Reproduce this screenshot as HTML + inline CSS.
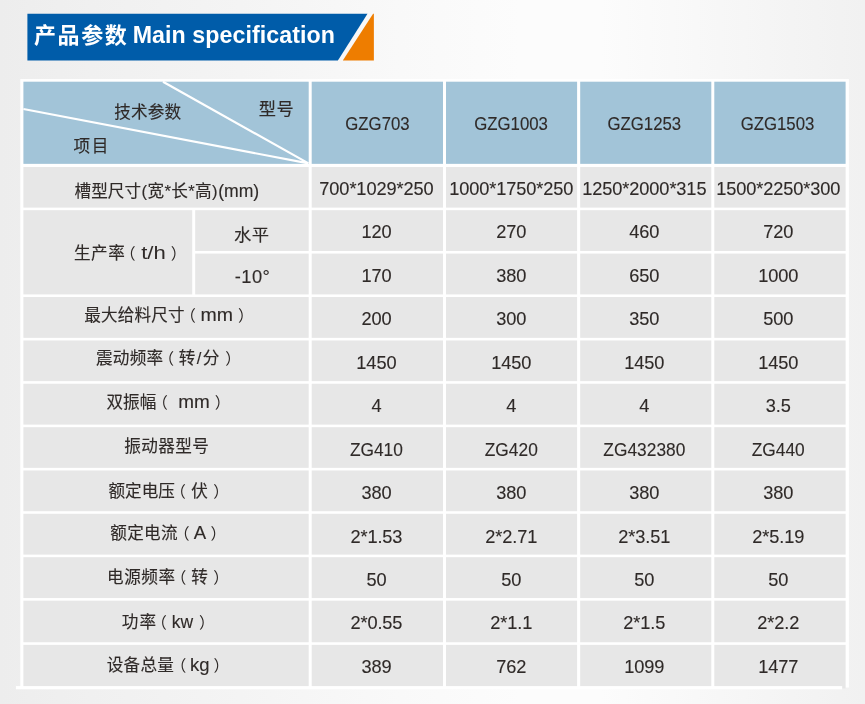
<!DOCTYPE html>
<html lang="zh-CN">
<head>
<meta charset="utf-8">
<title>产品参数 Main specification</title>
<style>
html,body{margin:0;padding:0;}
body{width:865px;height:704px;overflow:hidden;position:relative;background:#f1f1f1;}
#bg{position:absolute;left:0;top:0;width:865px;height:704px;background:linear-gradient(90deg,#ededed 0px,#f0f0f0 90px,#f4f4f4 240px,#f9f9f9 400px,#fcfcfc 520px,#fcfcfc 600px,#f7f7f7 720px,#f1f1f1 865px);}
svg{position:absolute;left:0;top:0;}
svg{font-family:"Liberation Sans", "Noto Sans CJK SC", sans-serif;fill:#2f2a28;}
.k{stroke:#2f2a28;stroke-width:0.14px;}
.e,.d{stroke:#2f2a28;stroke-width:0.12px;}
</style>
</head>
<body>
<div id="bg"></div>
<svg width="865" height="704" viewBox="0 0 865 704">
<g id="shapes">
<polygon points="27.4,13.8 367.5,13.8 337.9,60.6 27.4,60.6" fill="#005ca9"/>
<polygon points="373.1,13.8 373.9,13.8 373.9,60.6 342.8,60.6" fill="#ee7d00"/>
<rect x="20.30" y="79.10" width="828.60" height="608.40" fill="#ffffff"/>
<rect x="23.40" y="81.70" width="285.30" height="82.15" fill="#a2c4d8"/>
<rect x="311.70" y="81.70" width="131.30" height="82.15" fill="#a2c4d8"/>
<rect x="446.00" y="81.70" width="131.10" height="82.15" fill="#a2c4d8"/>
<rect x="580.20" y="81.70" width="131.10" height="82.15" fill="#a2c4d8"/>
<rect x="714.30" y="81.70" width="131.30" height="82.15" fill="#a2c4d8"/>
<path d="M23.4,109 L308.5,163.4 M163,81.7 L308.5,163.4" stroke="#ffffff" stroke-width="2.2" fill="none"/>
<rect x="23.40" y="167.00" width="285.30" height="40.60" fill="#e7e7e7"/>
<rect x="311.70" y="167.00" width="131.30" height="40.60" fill="#e7e7e7"/>
<rect x="446.00" y="167.00" width="131.10" height="40.60" fill="#e7e7e7"/>
<rect x="580.20" y="167.00" width="131.10" height="40.60" fill="#e7e7e7"/>
<rect x="714.30" y="167.00" width="131.30" height="40.60" fill="#e7e7e7"/>
<rect x="311.70" y="210.20" width="131.30" height="40.80" fill="#e7e7e7"/>
<rect x="446.00" y="210.20" width="131.10" height="40.80" fill="#e7e7e7"/>
<rect x="580.20" y="210.20" width="131.10" height="40.80" fill="#e7e7e7"/>
<rect x="714.30" y="210.20" width="131.30" height="40.80" fill="#e7e7e7"/>
<rect x="311.70" y="253.60" width="131.30" height="40.80" fill="#e7e7e7"/>
<rect x="446.00" y="253.60" width="131.10" height="40.80" fill="#e7e7e7"/>
<rect x="580.20" y="253.60" width="131.10" height="40.80" fill="#e7e7e7"/>
<rect x="714.30" y="253.60" width="131.30" height="40.80" fill="#e7e7e7"/>
<rect x="23.40" y="297.00" width="285.30" height="40.85" fill="#e7e7e7"/>
<rect x="311.70" y="297.00" width="131.30" height="40.85" fill="#e7e7e7"/>
<rect x="446.00" y="297.00" width="131.10" height="40.85" fill="#e7e7e7"/>
<rect x="580.20" y="297.00" width="131.10" height="40.85" fill="#e7e7e7"/>
<rect x="714.30" y="297.00" width="131.30" height="40.85" fill="#e7e7e7"/>
<rect x="23.40" y="340.45" width="285.30" height="40.70" fill="#e7e7e7"/>
<rect x="311.70" y="340.45" width="131.30" height="40.70" fill="#e7e7e7"/>
<rect x="446.00" y="340.45" width="131.10" height="40.70" fill="#e7e7e7"/>
<rect x="580.20" y="340.45" width="131.10" height="40.70" fill="#e7e7e7"/>
<rect x="714.30" y="340.45" width="131.30" height="40.70" fill="#e7e7e7"/>
<rect x="23.40" y="383.75" width="285.30" height="40.85" fill="#e7e7e7"/>
<rect x="311.70" y="383.75" width="131.30" height="40.85" fill="#e7e7e7"/>
<rect x="446.00" y="383.75" width="131.10" height="40.85" fill="#e7e7e7"/>
<rect x="580.20" y="383.75" width="131.10" height="40.85" fill="#e7e7e7"/>
<rect x="714.30" y="383.75" width="131.30" height="40.85" fill="#e7e7e7"/>
<rect x="23.40" y="427.20" width="285.30" height="40.65" fill="#e7e7e7"/>
<rect x="311.70" y="427.20" width="131.30" height="40.65" fill="#e7e7e7"/>
<rect x="446.00" y="427.20" width="131.10" height="40.65" fill="#e7e7e7"/>
<rect x="580.20" y="427.20" width="131.10" height="40.65" fill="#e7e7e7"/>
<rect x="714.30" y="427.20" width="131.30" height="40.65" fill="#e7e7e7"/>
<rect x="23.40" y="470.45" width="285.30" height="40.75" fill="#e7e7e7"/>
<rect x="311.70" y="470.45" width="131.30" height="40.75" fill="#e7e7e7"/>
<rect x="446.00" y="470.45" width="131.10" height="40.75" fill="#e7e7e7"/>
<rect x="580.20" y="470.45" width="131.10" height="40.75" fill="#e7e7e7"/>
<rect x="714.30" y="470.45" width="131.30" height="40.75" fill="#e7e7e7"/>
<rect x="23.40" y="513.80" width="285.30" height="40.80" fill="#e7e7e7"/>
<rect x="311.70" y="513.80" width="131.30" height="40.80" fill="#e7e7e7"/>
<rect x="446.00" y="513.80" width="131.10" height="40.80" fill="#e7e7e7"/>
<rect x="580.20" y="513.80" width="131.10" height="40.80" fill="#e7e7e7"/>
<rect x="714.30" y="513.80" width="131.30" height="40.80" fill="#e7e7e7"/>
<rect x="23.40" y="557.20" width="285.30" height="40.85" fill="#e7e7e7"/>
<rect x="311.70" y="557.20" width="131.30" height="40.85" fill="#e7e7e7"/>
<rect x="446.00" y="557.20" width="131.10" height="40.85" fill="#e7e7e7"/>
<rect x="580.20" y="557.20" width="131.10" height="40.85" fill="#e7e7e7"/>
<rect x="714.30" y="557.20" width="131.30" height="40.85" fill="#e7e7e7"/>
<rect x="23.40" y="600.65" width="285.30" height="41.60" fill="#e7e7e7"/>
<rect x="311.70" y="600.65" width="131.30" height="41.60" fill="#e7e7e7"/>
<rect x="446.00" y="600.65" width="131.10" height="41.60" fill="#e7e7e7"/>
<rect x="580.20" y="600.65" width="131.10" height="41.60" fill="#e7e7e7"/>
<rect x="714.30" y="600.65" width="131.30" height="41.60" fill="#e7e7e7"/>
<rect x="23.40" y="644.85" width="285.30" height="43.65" fill="#e7e7e7"/>
<rect x="311.70" y="644.85" width="131.30" height="43.65" fill="#e7e7e7"/>
<rect x="446.00" y="644.85" width="131.10" height="43.65" fill="#e7e7e7"/>
<rect x="580.20" y="644.85" width="131.10" height="43.65" fill="#e7e7e7"/>
<rect x="714.30" y="644.85" width="131.30" height="43.65" fill="#e7e7e7"/>
<rect x="23.40" y="210.20" width="168.80" height="84.20" fill="#e7e7e7"/>
<rect x="195.20" y="210.20" width="113.50" height="40.80" fill="#e7e7e7"/>
<rect x="195.20" y="253.60" width="113.50" height="40.80" fill="#e7e7e7"/>
<rect x="15.90" y="686.10" width="826.30" height="3.20" fill="#ffffff"/>
</g>
<g id="labels" font-size="17">
<text y="197.47" xml:space="preserve"><tspan x="74.50" font-size="16.6" letter-spacing="0.08" class="k">槽型尺寸</tspan><tspan x="141.60" font-size="16.6" letter-spacing="0.35" class="k">(宽*长*高)</tspan><tspan x="218.14" font-size="18.0" textLength="41.08" lengthAdjust="spacingAndGlyphs" class="e">(mm)</tspan></text>
<text y="258.96" xml:space="preserve"><tspan x="73.97" font-size="16.6" letter-spacing="0.53" class="k">生产率</tspan><tspan x="120.02" font-size="15.6">（</tspan><tspan x="141.17" font-size="18.6" textLength="24.58" lengthAdjust="spacingAndGlyphs">t/h</tspan><tspan x="170.87" font-size="15.6">）</tspan></text>
<text y="320.52" xml:space="preserve"><tspan x="84.15" font-size="16.6" letter-spacing="0.20" class="k">最大给料尺寸</tspan><tspan x="180.17" font-size="15.6">（</tspan><tspan x="200.43" font-size="18.6" textLength="32.50" lengthAdjust="spacingAndGlyphs" class="e">mm</tspan><tspan x="238.07" font-size="15.6">）</tspan></text>
<text y="364.46" xml:space="preserve"><tspan x="96.00" font-size="16.6" letter-spacing="0.28" class="k">震动频率</tspan><tspan x="158.47" font-size="15.6">（</tspan><tspan x="178.72" font-size="16.6" letter-spacing="1.47" class="k">转/分</tspan><tspan x="225.37" font-size="15.6">）</tspan></text>
<text y="408.36" xml:space="preserve"><tspan x="106.40" font-size="16.6" letter-spacing="0.12" class="k">双振幅</tspan><tspan x="152.27" font-size="15.6">（</tspan><tspan font-size="16.6"> </tspan><tspan x="178.17" font-size="18.6" textLength="31.52" lengthAdjust="spacingAndGlyphs" class="e">mm</tspan><tspan x="214.77" font-size="15.6">）</tspan></text>
<text y="452.26" xml:space="preserve"><tspan x="124.32" font-size="16.6" letter-spacing="0.41" class="k">振动器型号</tspan></text>
<text y="496.61" xml:space="preserve"><tspan x="108.52" font-size="16.6" letter-spacing="0.01" class="k">额定电压</tspan><tspan x="170.27" font-size="15.6">（</tspan><tspan x="191.28" font-size="16.6" class="k">伏</tspan><tspan x="213.27" font-size="15.6">）</tspan></text>
<text y="539.46" xml:space="preserve"><tspan x="110.22" font-size="16.6" letter-spacing="0.32" class="k">额定电流</tspan><tspan x="173.97" font-size="15.6">（</tspan><tspan x="193.67" font-size="18.6" class="e">A</tspan><tspan x="210.47" font-size="15.6">）</tspan></text>
<text y="583.26" xml:space="preserve"><tspan x="107.02" font-size="16.6" letter-spacing="0.57" class="k">电源频率</tspan><tspan x="170.77" font-size="15.6">（</tspan><tspan x="191.29" font-size="16.6" class="k">转</tspan><tspan x="213.27" font-size="15.6">）</tspan></text>
<text y="627.55" xml:space="preserve"><tspan x="121.72" font-size="16.6" letter-spacing="1.11" class="k">功率</tspan><tspan x="151.17" font-size="15.6">（</tspan><tspan x="171.86" font-size="18.6" textLength="21.39" lengthAdjust="spacingAndGlyphs" class="e">kw</tspan><tspan x="199.07" font-size="15.6">）</tspan></text>
<text y="671.16" xml:space="preserve"><tspan x="106.64" font-size="16.6" letter-spacing="0.30" class="k">设备总量</tspan><tspan x="170.67" font-size="15.6">（</tspan><tspan x="190.00" font-size="18.6" textLength="19.53" lengthAdjust="spacingAndGlyphs" class="e">kg</tspan><tspan x="213.57" font-size="15.6">）</tspan></text>
<text y="117.61" xml:space="preserve"><tspan x="114.32" font-size="16.6" letter-spacing="0.17" class="k">技术参数</tspan></text>
<text y="115.34" xml:space="preserve"><tspan x="258.63" font-size="17.2" letter-spacing="0.79" class="k">型号</tspan></text>
<text y="151.93" xml:space="preserve"><tspan x="73.48" font-size="16.6" letter-spacing="1.67" class="k">项目</tspan></text>
<text y="241.17" xml:space="preserve"><tspan x="234.09" font-size="17.3" letter-spacing="0.27" class="k">水平</tspan></text>
<text y="43.46" font-weight="bold" fill="#ffffff" stroke="none" xml:space="preserve"><tspan x="33.96" font-size="22.0" letter-spacing="1.62">产品参数</tspan><tspan font-size="23"> </tspan><tspan x="132.69" font-size="23.2" letter-spacing="0.07">Main specification</tspan></text>
<text x="377.50" y="129.6" class="d" font-size="17.8" text-anchor="middle" textLength="64.37" lengthAdjust="spacingAndGlyphs">GZG703</text>
<text x="511.05" y="129.6" class="d" font-size="17.8" text-anchor="middle" textLength="73.71" lengthAdjust="spacingAndGlyphs">GZG1003</text>
<text x="644.35" y="129.6" class="d" font-size="17.8" text-anchor="middle" textLength="73.71" lengthAdjust="spacingAndGlyphs">GZG1253</text>
<text x="777.50" y="129.6" class="d" font-size="17.8" text-anchor="middle" textLength="73.71" lengthAdjust="spacingAndGlyphs">GZG1503</text>
<text x="376.40" y="195.00" class="d" font-size="18.2" letter-spacing="-0.1" text-anchor="middle">700*1029*250</text>
<text x="511.30" y="195.00" class="d" font-size="18.2" letter-spacing="-0.1" text-anchor="middle">1000*1750*250</text>
<text x="644.35" y="195.00" class="d" font-size="18.2" letter-spacing="-0.1" text-anchor="middle">1250*2000*315</text>
<text x="778.20" y="195.00" class="d" font-size="18.2" letter-spacing="-0.1" text-anchor="middle">1500*2250*300</text>
<text x="376.40" y="238.47" class="d" font-size="18.2" letter-spacing="-0.1" text-anchor="middle">120</text>
<text x="511.30" y="238.47" class="d" font-size="18.2" letter-spacing="-0.1" text-anchor="middle">270</text>
<text x="644.35" y="238.47" class="d" font-size="18.2" letter-spacing="-0.1" text-anchor="middle">460</text>
<text x="778.20" y="238.47" class="d" font-size="18.2" letter-spacing="-0.1" text-anchor="middle">720</text>
<text x="376.40" y="281.94" class="d" font-size="18.2" letter-spacing="-0.1" text-anchor="middle">170</text>
<text x="511.30" y="281.94" class="d" font-size="18.2" letter-spacing="-0.1" text-anchor="middle">380</text>
<text x="644.35" y="281.94" class="d" font-size="18.2" letter-spacing="-0.1" text-anchor="middle">650</text>
<text x="778.20" y="281.94" class="d" font-size="18.2" letter-spacing="-0.1" text-anchor="middle">1000</text>
<text x="376.40" y="325.41" class="d" font-size="18.2" letter-spacing="-0.1" text-anchor="middle">200</text>
<text x="511.30" y="325.41" class="d" font-size="18.2" letter-spacing="-0.1" text-anchor="middle">300</text>
<text x="644.35" y="325.41" class="d" font-size="18.2" letter-spacing="-0.1" text-anchor="middle">350</text>
<text x="778.20" y="325.41" class="d" font-size="18.2" letter-spacing="-0.1" text-anchor="middle">500</text>
<text x="376.40" y="368.88" class="d" font-size="18.2" letter-spacing="-0.1" text-anchor="middle">1450</text>
<text x="511.30" y="368.88" class="d" font-size="18.2" letter-spacing="-0.1" text-anchor="middle">1450</text>
<text x="644.35" y="368.88" class="d" font-size="18.2" letter-spacing="-0.1" text-anchor="middle">1450</text>
<text x="778.20" y="368.88" class="d" font-size="18.2" letter-spacing="-0.1" text-anchor="middle">1450</text>
<text x="376.40" y="412.35" class="d" font-size="18.2" letter-spacing="-0.1" text-anchor="middle">4</text>
<text x="511.30" y="412.35" class="d" font-size="18.2" letter-spacing="-0.1" text-anchor="middle">4</text>
<text x="644.35" y="412.35" class="d" font-size="18.2" letter-spacing="-0.1" text-anchor="middle">4</text>
<text x="778.20" y="412.35" class="d" font-size="18.2" letter-spacing="-0.1" text-anchor="middle">3.5</text>
<text x="376.40" y="455.82" class="d" font-size="18.2" textLength="53.02" lengthAdjust="spacingAndGlyphs" text-anchor="middle">ZG410</text>
<text x="511.30" y="455.82" class="d" font-size="18.2" textLength="53.02" lengthAdjust="spacingAndGlyphs" text-anchor="middle">ZG420</text>
<text x="644.35" y="455.82" class="d" font-size="18.2" textLength="81.96" lengthAdjust="spacingAndGlyphs" text-anchor="middle">ZG432380</text>
<text x="778.20" y="455.82" class="d" font-size="18.2" textLength="53.02" lengthAdjust="spacingAndGlyphs" text-anchor="middle">ZG440</text>
<text x="376.40" y="499.29" class="d" font-size="18.2" letter-spacing="-0.1" text-anchor="middle">380</text>
<text x="511.30" y="499.29" class="d" font-size="18.2" letter-spacing="-0.1" text-anchor="middle">380</text>
<text x="644.35" y="499.29" class="d" font-size="18.2" letter-spacing="-0.1" text-anchor="middle">380</text>
<text x="778.20" y="499.29" class="d" font-size="18.2" letter-spacing="-0.1" text-anchor="middle">380</text>
<text x="376.40" y="542.76" class="d" font-size="18.2" letter-spacing="-0.1" text-anchor="middle">2*1.53</text>
<text x="511.30" y="542.76" class="d" font-size="18.2" letter-spacing="-0.1" text-anchor="middle">2*2.71</text>
<text x="644.35" y="542.76" class="d" font-size="18.2" letter-spacing="-0.1" text-anchor="middle">2*3.51</text>
<text x="778.20" y="542.76" class="d" font-size="18.2" letter-spacing="-0.1" text-anchor="middle">2*5.19</text>
<text x="376.40" y="586.23" class="d" font-size="18.2" letter-spacing="-0.1" text-anchor="middle">50</text>
<text x="511.30" y="586.23" class="d" font-size="18.2" letter-spacing="-0.1" text-anchor="middle">50</text>
<text x="644.35" y="586.23" class="d" font-size="18.2" letter-spacing="-0.1" text-anchor="middle">50</text>
<text x="778.20" y="586.23" class="d" font-size="18.2" letter-spacing="-0.1" text-anchor="middle">50</text>
<text x="376.40" y="628.80" class="d" font-size="18.2" letter-spacing="-0.1" text-anchor="middle">2*0.55</text>
<text x="511.30" y="628.80" class="d" font-size="18.2" letter-spacing="-0.1" text-anchor="middle">2*1.1</text>
<text x="644.35" y="628.80" class="d" font-size="18.2" letter-spacing="-0.1" text-anchor="middle">2*1.5</text>
<text x="778.20" y="628.80" class="d" font-size="18.2" letter-spacing="-0.1" text-anchor="middle">2*2.2</text>
<text x="376.40" y="672.77" class="d" font-size="18.2" letter-spacing="-0.1" text-anchor="middle">389</text>
<text x="511.30" y="672.77" class="d" font-size="18.2" letter-spacing="-0.1" text-anchor="middle">762</text>
<text x="644.35" y="672.77" class="d" font-size="18.2" letter-spacing="-0.1" text-anchor="middle">1099</text>
<text x="778.20" y="672.77" class="d" font-size="18.2" letter-spacing="-0.1" text-anchor="middle">1477</text>
<text x="252.6" y="282.6" class="d" font-size="18.3" letter-spacing="0.45" text-anchor="middle">-10°</text>
</g>
</svg>
</body>
</html>
